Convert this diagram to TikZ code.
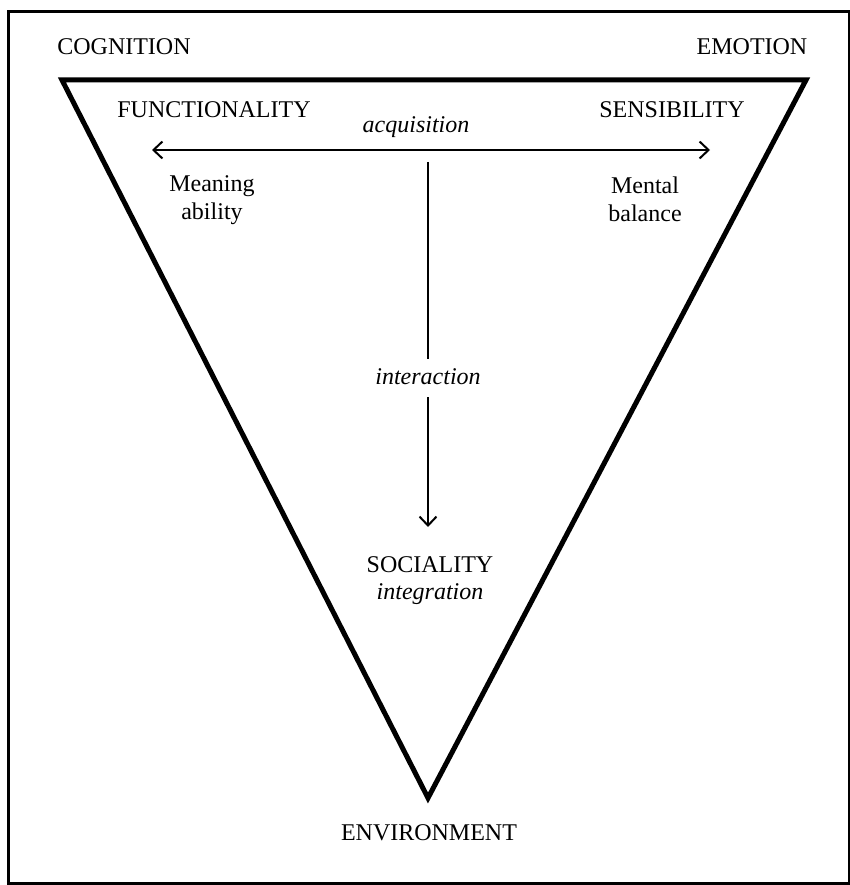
\documentclass[tikz,border=0pt]{standalone}
\usepackage{fontspec}
\setmainfont{Liberation Serif}
\usetikzlibrary{arrows.meta}
\begin{document}
\begin{tikzpicture}[x=1pt,y=-1pt,
  lbl/.style={font=\fontsize{24}{28}\selectfont, inner sep=0pt, align=center},
  ital/.style={font=\fontsize{24}{28}\selectfont\itshape, inner sep=0pt},
  barb/.tip={Straight Barb[length=9pt,width=17pt,line width=2pt]},
  conn/.style={line width=2pt}]
\useasboundingbox (0,0) rectangle (850,885);
\draw[line width=3pt] (8,12) -- (849,12) -- (849,883) -- (8,883) -- cycle;
\coordinate (tl) at (62,80);
\coordinate (tr) at (806,80);
\coordinate (bt) at (428,798);
\draw[line width=5pt, line join=miter] (tl) -- (tr) -- (bt) -- cycle;
\node[lbl] (cog) at (124,47) {COGNITION};
\node[lbl] (emo) at (752,47) {EMOTION};
\node[lbl] (fun) at (214,110) {FUNCTIONALITY};
\node[lbl] (sen) at (672,110) {SENSIBILITY};
\node[ital] (acq) at (416,127) {acquisition};
\node[lbl] (mea) at (212,200) {Meaning\\ability};
\node[lbl] (men) at (645,199) {Mental\\balance};
\coordinate (al) at (152,150);
\coordinate (ar) at (710,150);
\draw[conn, barb-barb] (al) -- (ar);
\node[ital] (int) at (428,377) {interaction};
\node[lbl] (soc) at (430,565) {SOCIALITY};
\node[ital] (ing) at (430,594) {integration};
\node[lbl] (env) at (429,833) {ENVIRONMENT};
\coordinate (vt) at (428,162);
\draw[conn, line width=2.5pt] (vt) -- ([yshift=10pt]int.north);
\coordinate (vb) at (428,527);
\draw[conn, -barb] ([yshift=-12pt]int.south) -- (vb);
\end{tikzpicture}
\end{document}
